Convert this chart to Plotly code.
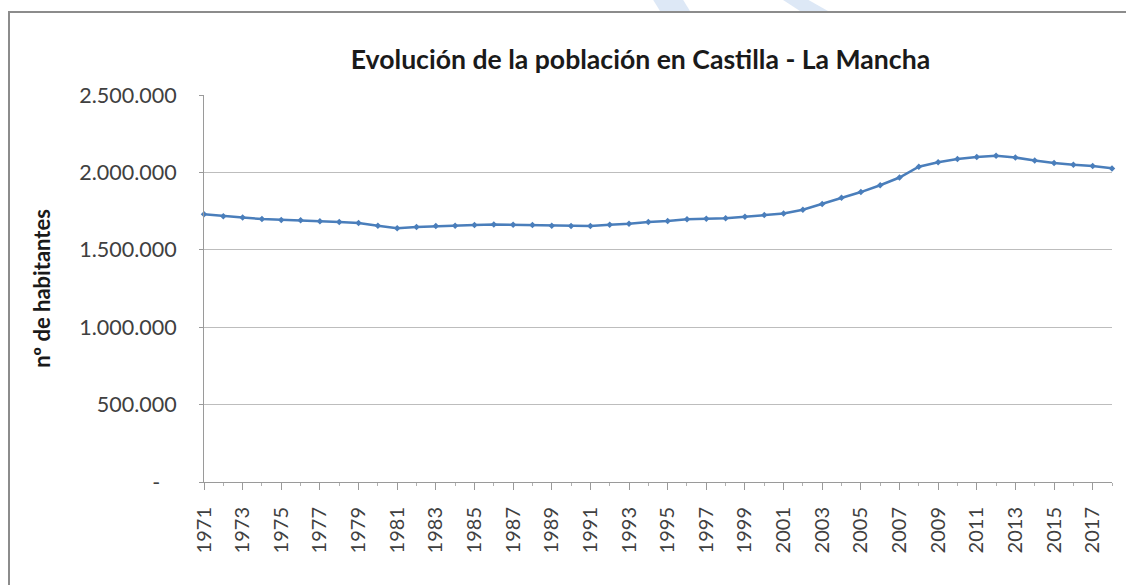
import plotly.graph_objects as go

# population of Castilla - La Mancha
years = list(range(1971, 2019))
habitantes = [
    1730000, 1717000, 1708000, 1699000, 1693000, 1691000, 1684000, 1680000, 1673000, 1655000,
    1640000, 1647000, 1653000, 1655000, 1660000, 1664000, 1662000, 1660000, 1655000, 1653000,
    1653000, 1662000, 1668000, 1680000, 1686000, 1697000, 1700000, 1704000, 1713000, 1724000,
    1735000, 1759000, 1796000, 1836000, 1873000, 1917000, 1967000, 2037000, 2066000, 2086000,
    2099000, 2107000, 2096000, 2077000, 2061000, 2050000, 2042000, 2026000,
]
y_ticks = [0, 500000, 1000000, 1500000, 2000000, 2500000]
y_labels = ["-\u00a0\u00a0\u00a0", "500.000", "1.000.000", "1.500.000", "2.000.000", "2.500.000"]

W, H = 1126, 585
L, R, T, B = 204, 14, 95, 103
pw, ph = W - L - R, H - T - B


def px_x(x):
    return (x - L) / pw


def px_y(y):
    return (H - B - y) / ph


def stroke(pts):
    # light blue watermark strokes peeking above the frame
    return dict(type="path", xref="paper", yref="paper", layer="below",
                path="M " + " L ".join(f"{px_x(x):.4f},{px_y(y):.4f}" for x, y in pts) + " Z",
                fillcolor="#dde8f6", line=dict(width=0))


fig = go.Figure(go.Scatter(
    x=years, y=habitantes, mode="lines+markers",
    line=dict(color="#4a7ebb", width=2.5),
    marker=dict(symbol="diamond", size=5, color="#4a7ebb"),
    cliponaxis=False,
))

fig.update_layout(
    width=W, height=H,
    margin=dict(l=L, r=R, t=T, b=B),
    paper_bgcolor="white", plot_bgcolor="white",
    font=dict(family="Lato", color="#404040"),
    showlegend=False,
    title=dict(
        text="<b>Evolución de la población en Castilla - La Mancha</b>",
        x=0.5688, xanchor="center", y=1 - 60 / H, yanchor="middle",
        font=dict(size=26.6, color="#1a1a1a"),
    ),
    shapes=[
        stroke([(652, -2), (682, -2), (690, 11), (660, 11)]),
        stroke([(780, -2), (805, -2), (828, 11), (800, 11)]),
        # outer chart frame (cropped on right and bottom)
        dict(type="rect", xref="paper", yref="paper",
             x0=px_x(9), x1=px_x(1160), y0=px_y(620), y1=px_y(12),
             line=dict(color="#8c8c8c", width=2), layer="below"),
    ],
)

fig.update_xaxes(
    range=[1971, 2018], tickmode="linear", tick0=1971, dtick=2,
    tickangle=-90, ticks="outside", ticklen=7, tickcolor="#9a9a9a",
    showline=True, linecolor="#9a9a9a", linewidth=1,
    showgrid=False, zeroline=False,
    minor=dict(ticks="outside", ticklen=3, dtick=1, tick0=1971, tickcolor="#b0b0b0"),
    tickfont=dict(size=20, color="#404040"),
    ticklabelstandoff=9,
)
fig.update_yaxes(
    range=[0, 2500000], tickmode="array", tickvals=y_ticks, ticktext=y_labels,
    ticks="outside", ticklen=4, tickcolor="#9a9a9a",
    showline=True, linecolor="#9a9a9a", linewidth=1,
    showgrid=True, gridcolor="#bdbdbd", gridwidth=1, zeroline=False,
    tickfont=dict(size=21.5, color="#404040"),
    ticklabelstandoff=18,
    title=dict(text="<b>nº de habitantes</b>", font=dict(size=22, color="#1a1a1a"), standoff=22),
)

fig.write_html("out.html", config={"displayModeBar": False},
               post_script="document.body.style.margin='0px';")
